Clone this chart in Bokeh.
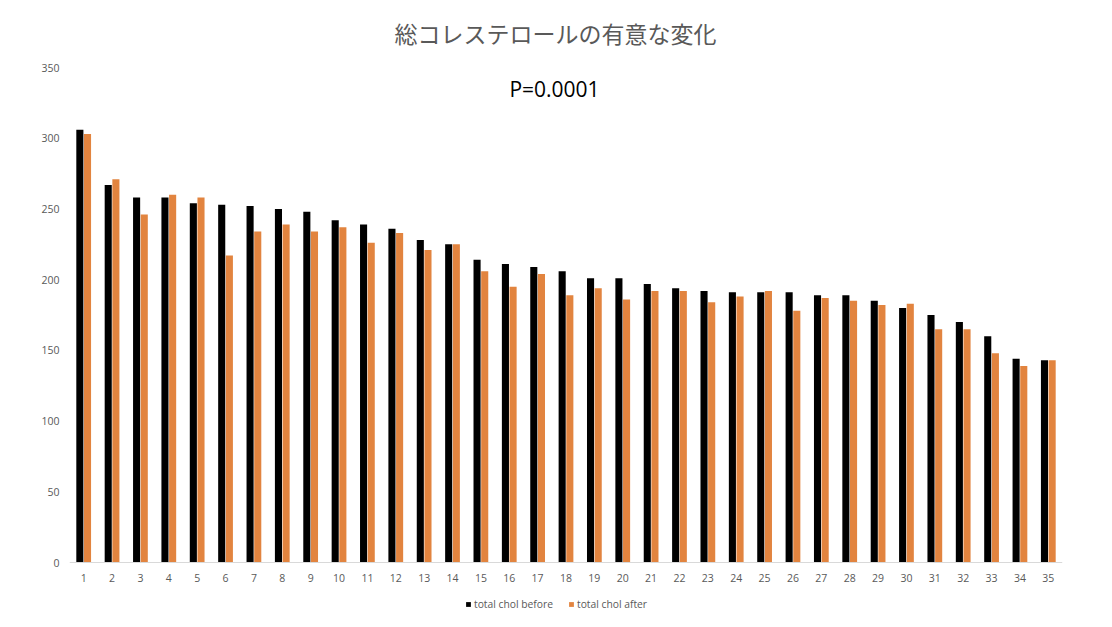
from bokeh.plotting import figure
from bokeh.models import ColumnDataSource, Range1d, FixedTicker, Label, Legend, LegendItem, LinearAxis
from bokeh.transform import dodge
from bokeh.embed import file_html
from bokeh.resources import INLINE

categories = list(range(1, 36))
tick_labels = [str(c) for c in categories]
before = [306, 267, 258, 258, 254, 253, 252, 250, 248, 242, 239, 236, 228, 225, 214,
          211, 209, 206, 201, 201, 197, 194, 192, 191, 191, 191, 189, 189, 185, 180,
          175, 170, 160, 144, 143]
after = [303, 271, 246, 260, 258, 217, 234, 239, 234, 237, 226, 233, 221, 225, 206,
         195, 204, 189, 194, 186, 192, 192, 184, 188, 192, 178, 187, 185, 182, 183,
         165, 165, 148, 139, 143]
y_ticks = [0, 50, 100, 150, 200, 250, 300, 350]
title_text = "総コレステロールの有意な変化"
p_text = "P=0.0001"
series_names = ["total chol before", "total chol after"]

# layout (pixels on the page)
W, H = 1112, 627
frame_left, frame_right = 69, 1062
y_px_350, y_px_0 = 67, 562
ppu = (y_px_0 - y_px_350) / 350.0
y_start = -(H - y_px_0) / ppu
y_end = y_px_0 / ppu
cat_w = (frame_right - frame_left) / 35.0

def page_to_x(px):
    return 0.5 + (px - frame_left) / cat_w

def page_to_y(py):
    return (y_px_0 - py) / ppu

src = ColumnDataSource(dict(x=categories, before=before, after=after))

p = figure(width=W, height=H, output_backend="svg", toolbar_location=None,
           x_range=Range1d(0.5, 35.5), y_range=Range1d(y_start, y_end),
           x_axis_location=None,
           min_border_left=frame_left, min_border_right=W - frame_right,
           min_border_top=0, min_border_bottom=0)
p.outline_line_color = None
p.background_fill_color = "white"

r1 = p.vbar(x=dodge("x", -0.135, range=p.x_range), top="before", width=0.25,
            source=src, fill_color="#000000", line_color=None)
r2 = p.vbar(x=dodge("x", 0.135, range=p.x_range), top="after", width=0.25,
            source=src, fill_color="#E2843F", line_color=None)

xaxis = LinearAxis(fixed_location=0)
xaxis.ticker = FixedTicker(ticks=categories)
xaxis.major_label_overrides = {c: t for c, t in zip(categories, tick_labels)}
xaxis.major_tick_line_color = None
xaxis.minor_tick_line_color = None
xaxis.axis_line_color = "#D9D9D9"
xaxis.major_label_text_color = "#595959"
xaxis.major_label_text_font = "Open Sans"
xaxis.major_label_text_font_size = "10.5px"
xaxis.major_label_standoff = 5
p.add_layout(xaxis, "below")

p.yaxis.ticker = FixedTicker(ticks=y_ticks)
p.yaxis.major_tick_line_color = None
p.yaxis.minor_tick_line_color = None
p.yaxis.axis_line_color = None
p.yaxis.major_label_text_color = "#595959"
p.yaxis.major_label_text_font = "Open Sans"
p.yaxis.major_label_text_font_size = "10.5px"
p.yaxis.major_label_standoff = 4
p.xgrid.visible = False
p.ygrid.visible = False

p.add_layout(Label(x=page_to_x(555), y=page_to_y(32), text=title_text,
                   text_align="center", text_baseline="middle",
                   text_font="Noto Sans CJK JP", text_font_size="23px",
                   text_color="#595959"))

p.add_layout(Label(x=page_to_x(554), y=page_to_y(88), text=p_text,
                   text_align="center", text_baseline="middle",
                   text_font="Open Sans", text_font_size="21px", text_color="#000000"))

legend = Legend(items=[LegendItem(label=series_names[0], renderers=[r1]),
                       LegendItem(label=series_names[1], renderers=[r2])],
                orientation="horizontal", location=(465 - frame_left, H - 603.5 - 10),
                border_line_color=None, background_fill_alpha=0,
                label_text_font="Open Sans", label_text_font_size="10.3px",
                label_text_color="#595959", glyph_width=6, glyph_height=6,
                label_height=20, spacing=15, label_standoff=3, padding=0, margin=0)
p.add_layout(legend, "center")

open("out.html", "w").write(file_html(p, INLINE))
